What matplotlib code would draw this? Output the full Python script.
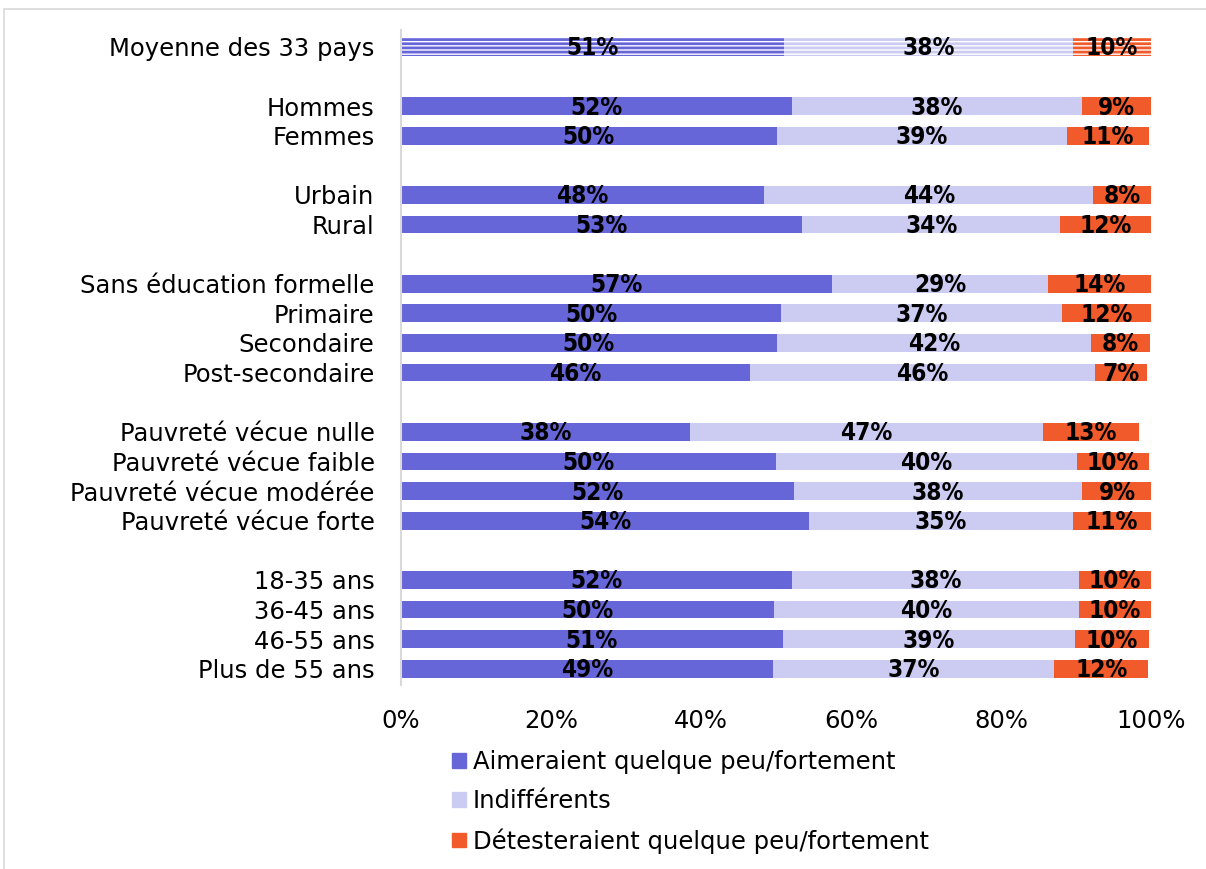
import matplotlib
matplotlib.use("Agg")
import matplotlib.pyplot as plt
from matplotlib.patches import Rectangle

categories = ["Moyenne des 33 pays", "", "Hommes", "Femmes", "", "Urbain", "Rural", "",
              "Sans éducation formelle", "Primaire", "Secondaire", "Post-secondaire", "",
              "Pauvreté vécue nulle", "Pauvreté vécue faible", "Pauvreté vécue modérée",
              "Pauvreté vécue forte", "", "18-35 ans", "36-45 ans", "46-55 ans", "Plus de 55 ans"]

# values in %, None for the spacer rows
aiment = [51.1, None, 52.1, 50.1, None, 48.4, 53.5, None, 57.5, 50.7, 50.1, 46.5, None,
          38.5, 50.0, 52.4, 54.4, None, 52.1, 49.7, 50.9, 49.6]
indiff = [38.5, None, 38.7, 38.7, None, 43.9, 34.4, None, 28.8, 37.4, 41.9, 46.0, None,
          47.1, 40.1, 38.4, 35.2, None, 38.3, 40.7, 39.0, 37.5]
detest = [10.4, None, 9.2, 10.9, None, 7.7, 12.1, None, 13.7, 11.9, 7.9, 7.0, None,
          12.8, 9.6, 9.5, 10.4, None, 9.6, 9.6, 9.8, 12.5]

lab_aiment = ["51%", "", "52%", "50%", "", "48%", "53%", "", "57%", "50%", "50%", "46%", "",
              "38%", "50%", "52%", "54%", "", "52%", "50%", "51%", "49%"]
lab_indiff = ["38%", "", "38%", "39%", "", "44%", "34%", "", "29%", "37%", "42%", "46%", "",
              "47%", "40%", "38%", "35%", "", "38%", "40%", "39%", "37%"]
lab_detest = ["10%", "", "9%", "11%", "", "8%", "12%", "", "14%", "12%", "8%", "7%", "",
              "13%", "10%", "9%", "11%", "", "10%", "10%", "10%", "12%"]

series_names = ["Aimeraient quelque peu/fortement", "Indifférents",
                "Détesteraient quelque peu/fortement"]
colors = ["#6666D9", "#CCCCF2", "#F15A2B"]

plt.rcParams["font.family"] = ["DejaVu Sans"]
plt.rcParams["hatch.linewidth"] = 2.0

fig = plt.figure(figsize=(12.06, 8.69), dpi=100)
ax = fig.add_axes([0.3325, 0.2117, 0.6219, 0.7538])

for s, (vals, labs) in enumerate([(aiment, lab_aiment), (indiff, lab_indiff), (detest, lab_detest)]):
    for i, v in enumerate(vals):
        if v is None:
            continue
        left = 0
        if s >= 1:
            left += aiment[i]
        if s >= 2:
            left += indiff[i]
        if i == 0:
            # average row is hatched
            ax.barh(i, v / 100, left=left / 100, height=0.6, color="white",
                    edgecolor=colors[s], linewidth=0, hatch="----")
        else:
            ax.barh(i, v / 100, left=left / 100, height=0.6, color=colors[s], linewidth=0)
        ax.text((left + v / 2) / 100, i + 0.05, labs[i], ha="center", va="center",
                fontsize=17.5, fontweight="bold", fontstretch="condensed", color="black")

ax.set_ylim(21.55, -0.57)
ax.set_xlim(0, 1)
ax.set_yticks(range(len(categories)))
ax.set_yticklabels(categories, fontsize=17.5)
ax.set_xticks([0, 0.2, 0.4, 0.6, 0.8, 1.0])
ax.set_xticklabels(["0%", "20%", "40%", "60%", "80%", "100%"], fontsize=17.5)
ax.tick_params(axis="both", length=0)
ax.tick_params(axis="x", pad=17)
ax.tick_params(axis="y", pad=19)
for side in ["top", "right", "bottom"]:
    ax.spines[side].set_visible(False)
ax.spines["left"].set_color("#D9D9D9")
ax.spines["left"].set_linewidth(1.5)

handles = [Rectangle((0, 0), 1, 1, color=c) for c in colors]
fig.legend(handles, series_names, loc="upper left", bbox_to_anchor=(0.367, 0.148),
           frameon=False, fontsize=17.5, handlelength=0.55, handleheight=0.55,
           handletextpad=0.3, labelspacing=0.62, borderaxespad=0)

# outer chart border
fig.patches.append(Rectangle((4 / 1206, -0.1), 1.2, (869 - 9) / 869 + 0.1,
                             transform=fig.transFigure, fill=False,
                             edgecolor="#D9D9D9", linewidth=1.2))

fig.savefig("out.png", dpi=100)
